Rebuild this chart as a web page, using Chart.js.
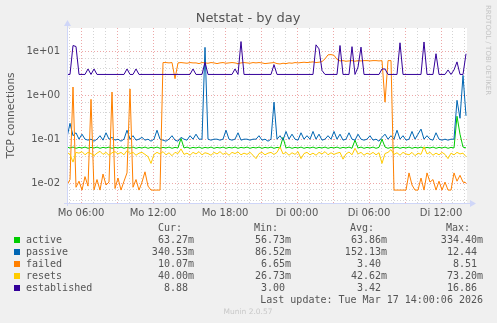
<!DOCTYPE html>
<html lang="de">
<head>
<meta charset="UTF-8">
<title>Netstat - by day</title>
<script src="https://cdn.jsdelivr.net/npm/chart.js"></script>
<style>
  html, body { margin: 0; padding: 0; background: #f0f0f0; }
  canvas { display: block; }
</style>
</head>
<body>
<canvas id="netstat" width="497" height="323"></canvas>
<script>
// hours since Mo 00:00, one sample every 15 minutes
const startHour = 4 + 50 / 60;
const stepHour = 0.25;
const tickHours = [6, 12, 18, 24, 30, 36];
const tickLabels = ['Mo 06:00', 'Mo 12:00', 'Mo 18:00', 'Di 00:00', 'Di 06:00', 'Di 12:00'];

const active = [
  0.066,0.063,0.066,0.062,0.065,0.063,0.066,0.062,0.065,0.063,
  0.066,0.062,0.065,0.063,0.066,0.062,0.065,0.063,0.066,0.062,
  0.065,0.063,0.066,0.062,0.065,0.063,0.066,0.062,0.065,0.063,
  0.066,0.062,0.065,0.063,0.066,0.062,0.065,0.063,0.104,0.063,
  0.066,0.062,0.065,0.063,0.066,0.062,0.065,0.063,0.066,0.062,
  0.065,0.063,0.066,0.062,0.065,0.063,0.066,0.062,0.065,0.063,
  0.066,0.062,0.065,0.063,0.066,0.062,0.065,0.063,0.066,0.062,
  0.065,0.063,0.110,0.063,0.066,0.062,0.065,0.063,0.066,0.062,
  0.065,0.063,0.066,0.062,0.065,0.063,0.066,0.062,0.065,0.063,
  0.066,0.062,0.065,0.063,0.066,0.062,0.095,0.063,0.066,0.062,
  0.065,0.063,0.066,0.062,0.065,0.100,0.066,0.062,0.065,0.063,
  0.066,0.062,0.065,0.063,0.066,0.062,0.065,0.063,0.066,0.062,
  0.065,0.063,0.066,0.062,0.065,0.063,0.066,0.062,0.065,0.063,
  0.334,0.130,0.066,0.0633
];
const passive = [
  0.11,0.23,0.12,0.14,0.10,0.13,0.10,0.095,0.10,0.09,
  0.10,0.12,0.095,0.14,0.10,0.11,0.095,0.10,0.09,0.10,
  0.16,0.10,0.12,0.095,0.10,0.11,0.095,0.10,0.09,0.10,
  0.16,0.10,0.095,0.09,0.10,0.12,0.095,0.09,0.11,0.10,
  0.095,0.12,0.10,0.13,0.10,0.10,12.44,0.10,0.095,0.10,
  0.10,0.095,0.10,0.16,0.10,0.095,0.10,0.14,0.095,0.10,
  0.10,0.095,0.10,0.10,0.12,0.095,0.10,0.09,0.10,0.70,
  0.10,0.12,0.095,0.15,0.10,0.13,0.10,0.095,0.14,0.10,
  0.12,0.10,0.15,0.10,0.13,0.095,0.10,0.12,0.10,0.15,
  0.10,0.13,0.095,0.10,0.14,0.10,0.095,0.13,0.10,0.095,
  0.10,0.12,0.095,0.10,0.09,0.11,0.13,0.10,0.12,0.10,
  0.16,0.10,0.12,0.095,0.10,0.15,0.10,0.13,0.17,0.10,
  0.12,0.10,0.095,0.14,0.10,0.095,0.10,0.095,0.10,0.10,
  0.77,0.30,2.85,0.3405
];
const failed = [
  0.009,0.012,1.55,0.008,0.011,0.0069,0.014,0.0085,0.81,0.007,
  0.012,0.0069,0.016,0.009,0.0105,1.19,0.0075,0.013,0.0069,0.011,
  0.017,1.40,0.008,0.012,0.0069,0.0105,0.018,0.0085,0.0069,0.0069,
  0.0069,0.0069,5.6,5.6,5.5,5.6,2.4,5.5,5.6,5.5,
  5.4,5.6,5.5,5.5,5.3,5.6,5.5,5.4,5.6,5.5,
  5.3,5.5,5.6,5.4,5.5,5.6,5.5,5.3,5.5,5.6,
  5.5,5.4,5.6,5.5,5.6,5.5,5.3,5.4,5.5,5.6,
  5.3,5.2,5.4,5.3,5.5,5.4,5.6,5.5,5.6,5.7,
  5.6,5.7,5.8,5.6,5.7,5.9,6.8,8.4,8.51,8.2,
  6.6,6.1,6.2,6.0,6.1,6.2,6.0,6.2,6.1,6.2,
  6.2,6.1,6.2,6.2,6.1,6.2,0.70,6.2,6.2,0.0069,
  0.0069,0.0069,0.0069,0.0069,0.017,0.009,0.0069,0.0069,0.013,0.0069,
  0.017,0.0105,0.012,0.0069,0.011,0.0069,0.0105,0.0069,0.0069,0.017,
  0.011,0.015,0.0105,0.01007
];
const resets = [
  0.050,0.045,0.030,0.050,0.048,0.052,0.044,0.050,0.047,0.042,
  0.048,0.053,0.045,0.050,0.043,0.049,0.052,0.046,0.050,0.044,
  0.055,0.047,0.050,0.043,0.048,0.050,0.045,0.040,0.028,0.045,
  0.050,0.046,0.052,0.044,0.049,0.042,0.050,0.047,0.060,0.045,
  0.048,0.043,0.050,0.046,0.052,0.044,0.049,0.047,0.043,0.050,
  0.046,0.052,0.045,0.049,0.043,0.050,0.047,0.051,0.044,0.048,
  0.045,0.050,0.043,0.036,0.047,0.050,0.044,0.048,0.050,0.045,
  0.050,0.067,0.046,0.050,0.043,0.049,0.045,0.052,0.036,0.047,
  0.050,0.044,0.048,0.043,0.050,0.046,0.052,0.044,0.049,0.045,
  0.048,0.050,0.035,0.046,0.051,0.044,0.062,0.046,0.050,0.043,
  0.048,0.045,0.050,0.044,0.049,0.028,0.047,0.050,0.058,0.045,
  0.049,0.043,0.050,0.046,0.044,0.050,0.042,0.048,0.045,0.067,
  0.046,0.050,0.043,0.048,0.044,0.050,0.045,0.036,0.048,0.044,
  0.050,0.046,0.048,0.040
];
const established = [
  3,3,13.7,13,3,3,3,4,3,4,
  3,3,3,3,3,3,3,3,3,3,
  4,3,3,4,3,3,3,3,3,3,
  3,3,3,3,3,3,3,3,3,3,
  3,3,4,3,3,3,5.7,3,3,3,
  3,3,3,3,3,3,4,3,16.86,3,
  3,3,3,3,3,3,3,3,3,5,
  3,3,3,3,3,3,3,3,3,3,
  3,3,3,14.2,11.5,3.7,3,3,3,3,
  3,13.7,3,3,3,12.9,3,4.4,12.6,3,
  3,3,3,3,3,4,4,3,3,3,
  3,15.8,3,3,3,3,3,3,3,16.5,
  3,3,3,8.9,3,3,3,3.8,3,3.8,
  5.8,3,3,8.88
];

const seriesNames = ['active', 'passive', 'failed', 'resets', 'established'];
const seriesColors = ['#00cc00', '#0066b3', '#ff8000', '#ffcc00', '#330099'];
const curValues = ['63.27m', '340.53m', '10.07m', '40.00m', '8.88 '];
const minValues = ['56.73m', '86.52m', '6.65m', '26.73m', '3.00 '];
const avgValues = ['63.86m', '152.13m', '3.40 ', '42.62m', '3.42 '];
const maxValues = ['334.40m', '12.44 ', '8.51 ', '73.20m', '16.86 '];

const hours = active.map((v, i) => startHour + i * stepHour);
const allSeries = [active, passive, failed, resets, established];

const txt = '#555';
const sans = '"DejaVu Sans", sans-serif';
const mono = '"DejaVu Sans Mono", monospace';
const minorGrid = 'rgba(160,160,160,0.45)';
const majorGrid = 'rgba(225,110,110,0.6)';

const muninDecor = {
  id: 'muninDecor',
  beforeDraw(chart) {
    const { ctx, chartArea: a } = chart;
    ctx.save();
    ctx.fillStyle = '#f0f0f0';
    ctx.fillRect(0, 0, chart.width, chart.height);
    ctx.fillStyle = '#ffffff';
    ctx.fillRect(a.left, a.top, a.right - a.left, a.bottom - a.top);
    ctx.restore();
  },
  afterDraw(chart) {
    const { ctx, chartArea: a } = chart;
    ctx.save();
    // axes with arrows
    ctx.strokeStyle = '#cfd6f8';
    ctx.fillStyle = '#cfd6f8';
    ctx.lineWidth = 1;
    ctx.beginPath();
    ctx.moveTo(a.left - 3, a.bottom + 0.5);
    ctx.lineTo(a.right + 3, a.bottom + 0.5);
    ctx.moveTo(a.left + 0.5, a.bottom + 3);
    ctx.lineTo(a.left + 0.5, a.top - 2);
    ctx.stroke();
    ctx.beginPath();
    ctx.moveTo(a.right + 3, a.bottom - 3);
    ctx.lineTo(a.right + 9, a.bottom + 0.5);
    ctx.lineTo(a.right + 3, a.bottom + 4);
    ctx.fill();
    ctx.beginPath();
    ctx.moveTo(a.left - 3, a.top - 2);
    ctx.lineTo(a.left + 0.5, a.top - 8);
    ctx.lineTo(a.left + 4, a.top - 2);
    ctx.fill();

    // title
    ctx.fillStyle = txt;
    ctx.textBaseline = 'middle';
    ctx.textAlign = 'center';
    ctx.font = '13px ' + sans;
    ctx.fillText('Netstat - by day', 248, 19);

    // y axis title
    ctx.save();
    ctx.translate(11, 115.5);
    ctx.rotate(-Math.PI / 2);
    ctx.font = '10.5px ' + sans;
    ctx.fillText('TCP connections', 0, 0);
    ctx.restore();

    // side watermark
    ctx.save();
    ctx.translate(488, 5);
    ctx.rotate(Math.PI / 2);
    ctx.textAlign = 'left';
    ctx.fillStyle = '#c4c4c4';
    ctx.font = '7px ' + sans;
    ctx.fillText('RRDTOOL / TOBI OETIKER', 0, 0);
    ctx.restore();

    // legend table
    ctx.font = '10px ' + mono;
    ctx.textAlign = 'right';
    const heads = ['Cur:', 'Min:', 'Avg:', 'Max:'];
    const headX = [182, 278, 374, 470];
    const valX = [194, 291, 387, 483];
    heads.forEach((h, k) => ctx.fillText(h, headX[k], 228));
    seriesNames.forEach((name, r) => {
      const y = 240 + r * 12;
      ctx.fillStyle = seriesColors[r];
      ctx.fillRect(14, y - 3, 6, 6);
      ctx.fillStyle = txt;
      ctx.textAlign = 'left';
      ctx.fillText(name, 26, y);
      ctx.textAlign = 'right';
      [curValues, minValues, avgValues, maxValues].forEach((col, k) => {
        ctx.fillText(col[r], valX[k], y);
      });
    });
    ctx.fillText('Last update: Tue Mar 17 14:00:06 2026', 483, 300);

    ctx.textAlign = 'center';
    ctx.fillStyle = '#c8c8c8';
    ctx.font = '7.5px ' + sans;
    ctx.fillText('Munin 2.0.57', 248, 312);
    ctx.restore();
  }
};

const yMin = 0.0035, yMax = 34.4;

new Chart(document.getElementById('netstat'), {
  type: 'line',
  data: {
    datasets: allSeries.map((arr, k) => ({
      label: seriesNames[k],
      data: arr.map((v, i) => ({ x: hours[i], y: v })),
      borderColor: seriesColors[k],
      borderWidth: 1,
      pointRadius: 0,
      tension: 0,
      fill: false,
      order: 5 - k
    }))
  },
  options: {
    responsive: false,
    animation: false,
    devicePixelRatio: 1,
    layout: { padding: { top: 28, right: 30, left: 0, bottom: 0 } },
    plugins: { legend: { display: false }, tooltip: { enabled: false } },
    scales: {
      x: {
        type: 'linear',
        min: startHour,
        max: startHour + 400 / 12,
        afterFit(scale) { scale.height = 120; },
        afterBuildTicks(scale) {
          const t = [];
          for (let h = 5; h <= 38; h++) t.push({ value: h });
          scale.ticks = t;
        },
        border: { display: false, dash: [1, 2] },
        grid: {
          drawTicks: false,
          color: (c) => (c.tick && c.tick.value % 3 === 0) ? majorGrid : minorGrid
        },
        ticks: {
          autoSkip: false,
          maxRotation: 0,
          padding: 4,
          color: txt,
          font: { family: 'DejaVu Sans', size: 10 },
          callback: (v) => {
            const k = tickHours.indexOf(v);
            return k >= 0 ? tickLabels[k] : '';
          }
        }
      },
      y: {
        type: 'logarithmic',
        min: yMin,
        max: yMax,
        afterFit(scale) { scale.width = 67; },
        afterBuildTicks(scale) {
          const t = [];
          for (let e = -3; e <= 1; e++) {
            for (let m = 1; m <= 9; m++) {
              const v = parseFloat((m * Math.pow(10, e)).toPrecision(3));
              if (v >= yMin && v <= yMax) t.push({ value: v });
            }
          }
          scale.ticks = t;
        },
        border: { display: false, dash: [1, 2] },
        grid: {
          drawTicks: false,
          color: (c) => {
            if (!c.tick) return minorGrid;
            const l = Math.log10(c.tick.value);
            return Math.abs(l - Math.round(l)) < 1e-6 ? majorGrid : minorGrid;
          }
        },
        ticks: {
          padding: 7,
          color: txt,
          font: { family: 'DejaVu Sans', size: 10 },
          callback: (v) => {
            const l = Math.log10(v);
            const e = Math.round(l);
            if (Math.abs(l - e) > 1e-6) return '';
            return '1e' + (e < 0 ? '-' : '+') + String(Math.abs(e)).padStart(2, '0');
          }
        }
      }
    }
  },
  plugins: [muninDecor]
});
</script>
</body>
</html>
